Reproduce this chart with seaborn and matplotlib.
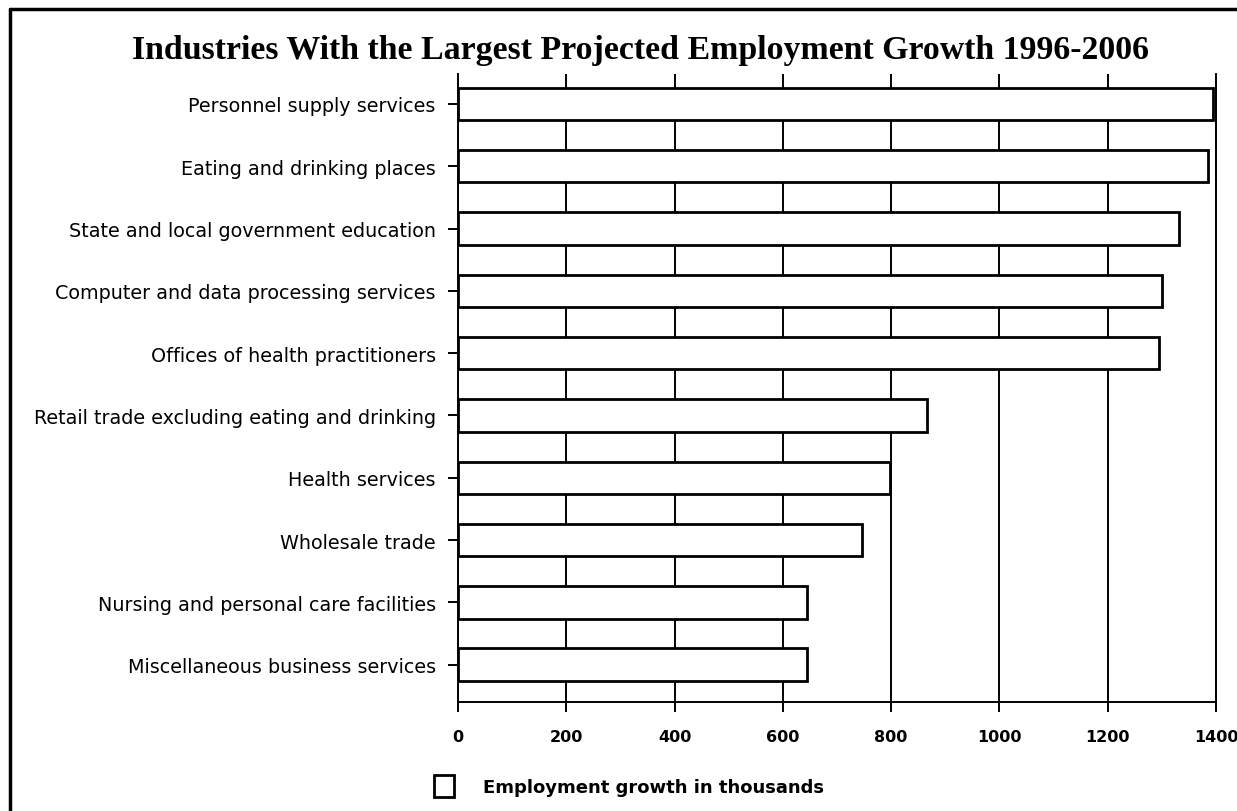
import matplotlib
matplotlib.use("Agg")
import matplotlib.pyplot as plt
import seaborn as sns
import pandas as pd
from matplotlib.patches import Patch
from matplotlib.lines import Line2D

industries = [
    "Personnel supply services",
    "Eating and drinking places",
    "State and local government education",
    "Computer and data processing services",
    "Offices of health practitioners",
    "Retail trade excluding eating and drinking",
    "Health services",
    "Wholesale trade",
    "Nursing and personal care facilities",
    "Miscellaneous business services",
]
growth = [1394, 1385, 1332, 1301, 1295, 867, 798, 747, 645, 645]
xticks = [0, 200, 400, 600, 800, 1000, 1200, 1400]

df = pd.DataFrame({"industry": industries, "growth": growth})

sns.set_theme(style="white")
plt.rcParams["font.family"] = ["DejaVu Sans"]
plt.rcParams["text.color"] = "black"
plt.rcParams["xtick.color"] = "black"
plt.rcParams["ytick.color"] = "black"

fig = plt.figure(figsize=(12.37, 8.12), dpi=100)
ax = fig.add_axes([458 / 1237, 1 - 703 / 812, (1216 - 458) / 1237, (703 - 75) / 812])

sns.barplot(data=df, x="growth", y="industry", orient="h", ax=ax,
            color="white", edgecolor="black", linewidth=2, width=0.52,
            saturation=1, zorder=3)

ax.set_xlim(0, 1400)
ax.set_ylim(9.6, -0.48)
ax.set_xticks(xticks)
ax.set_xticklabels([str(t) for t in xticks], fontsize=11.5, fontweight="bold", color="black")
ax.set_xlabel("")
ax.set_ylabel("")
for lab in ax.get_yticklabels():
    lab.set_fontsize(13.8)
    lab.set_color("black")
ax.xaxis.grid(True, color="black", linewidth=1.4, zorder=0)
ax.yaxis.grid(False)
ax.set_axisbelow(True)
ax.spines["top"].set_visible(False)
for side in ["left", "right", "bottom"]:
    ax.spines[side].set_color("black")
    ax.spines[side].set_linewidth(1.4)
ax.tick_params(axis="y", which="major", left=True, length=7.5, width=1.4, color="black", pad=8.5)
ax.tick_params(axis="x", which="major", bottom=True, length=7.5, width=1.4, color="black", pad=12)

fig.text(641 / 1237, 1 - 51 / 812,
         "Industries With the Largest Projected Employment Growth 1996-2006",
         ha="center", va="center", fontsize=24.4, fontweight="bold", color="black",
         family=["Liberation Serif", "DejaVu Serif"])

handle = Patch(facecolor="white", edgecolor="black", linewidth=2)
leg = fig.legend([handle], ["Employment growth in thousands"],
                 loc="center left", bbox_to_anchor=(418 / 1237, 1 - 787 / 812),
                 frameon=False, handlelength=1.1, handleheight=1.5, handletextpad=1.6,
                 prop={"weight": "bold", "size": 13})

# figure frame
fig.add_artist(Line2D([10 / 1237, 10 / 1237], [0, 1 - 10 / 812], transform=fig.transFigure,
                      color="black", linewidth=2.5))
fig.add_artist(Line2D([10 / 1237, 1], [1 - 10 / 812, 1 - 10 / 812], transform=fig.transFigure,
                      color="black", linewidth=2.5))

fig.savefig("out.png", dpi=100)
